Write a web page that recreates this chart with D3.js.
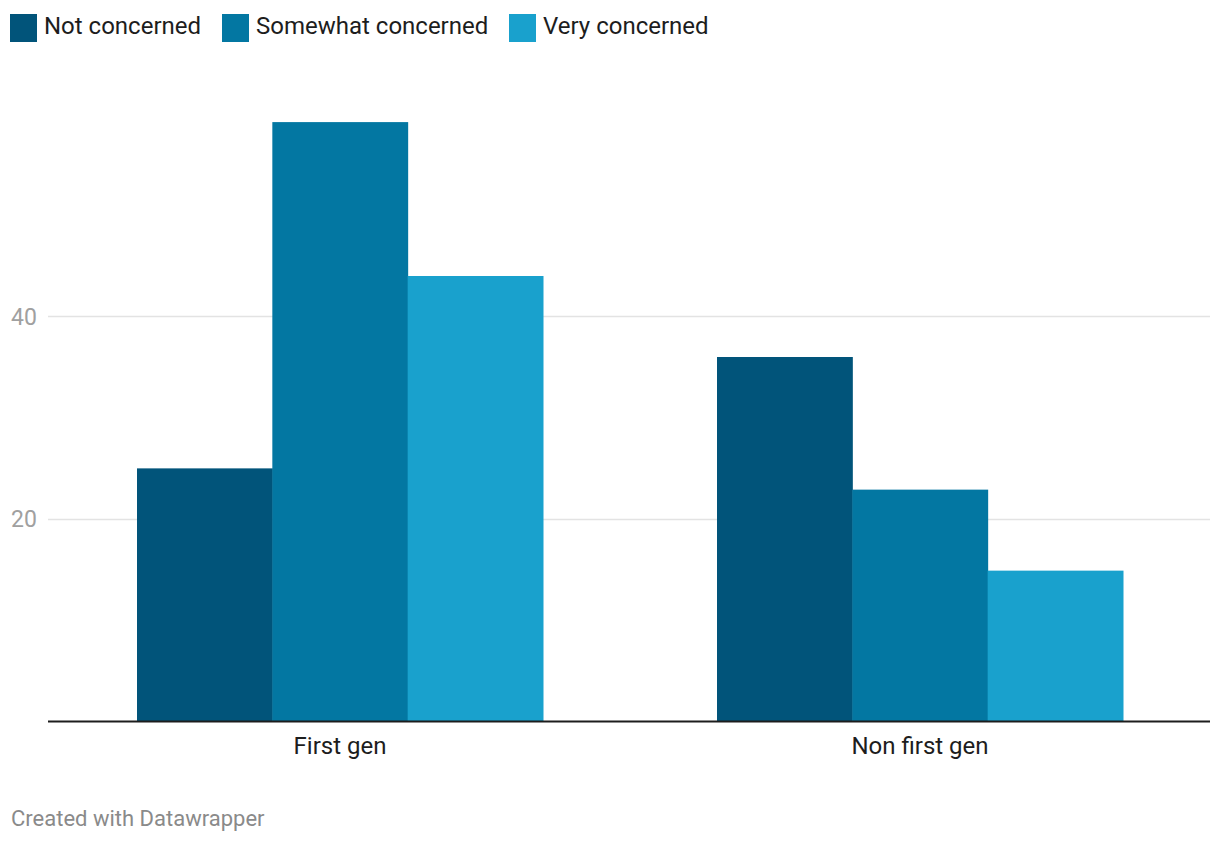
<!DOCTYPE html>
<html><head><meta charset="utf-8">
<script src="https://cdn.jsdelivr.net/npm/d3@7"></script>
<style>
body{margin:0;background:#fff;}
svg text{font-family:Roboto,"Noto Sans",sans-serif;}
</style></head>
<body><svg id="c" width="1220" height="844"></svg>
<script>
const categories = ["First gen", "Non first gen"];
const seriesNames = ["Not concerned", "Somewhat concerned", "Very concerned"];
const notConcerned = [25, 36];
const somewhatConcerned = [59.2, 22.9];
const veryConcerned = [44, 14.9];
const yTicks = [20, 40];
const colors = ["#01547a", "#0377a2", "#19a1cd"];

const seriesValues = [notConcerned, somewhatConcerned, veryConcerned];
const svg = d3.select("#c");

const x0 = d3.scaleBand().domain(categories).range([50, 1210]).paddingInner(0.3).paddingOuter(0.15);
const x1 = d3.scaleBand().domain(seriesNames).range([0, x0.bandwidth()]);
const y = d3.scaleLinear().domain([0, 60]).range([721.5, 114]);

// gridlines
svg.append("g").selectAll("line").data(yTicks).join("line")
  .attr("x1", 48).attr("x2", 1210)
  .attr("y1", d => Math.floor(y(d)) + 0.5).attr("y2", d => Math.floor(y(d)) + 0.5)
  .attr("stroke", "#e3e3e3").attr("stroke-width", 1.5);
svg.append("g").selectAll("text").data(yTicks).join("text")
  .attr("x", 11).attr("y", d => y(d) + 8)
  .attr("font-size", 23).attr("fill", "#a0a0a0")
  .text(d => d);

// bars
const groups = svg.append("g").selectAll("g").data(categories).join("g")
  .attr("transform", d => `translate(${x0(d)},0)`);
groups.selectAll("rect").data((c, ci) => seriesNames.map((s, si) => ({s, si, v: seriesValues[si][ci]})))
  .join("rect")
  .attr("x", d => x1(d.s)).attr("width", x1.bandwidth() + 0.5)
  .attr("y", d => y(d.v)).attr("height", d => y(0) - y(d.v))
  .attr("fill", d => colors[d.si]);

// baseline
svg.append("line").attr("x1", 48).attr("x2", 1210)
  .attr("y1", 721.5).attr("y2", 721.5).attr("stroke", "#1d1d1d").attr("stroke-width", 2);

// category labels
svg.append("g").selectAll("text").data(categories).join("text")
  .attr("x", d => x0(d) + x0.bandwidth() / 2).attr("y", 754)
  .attr("text-anchor", "middle").attr("font-size", 24).attr("fill", "#1d1d1d")
  .text(d => d);

// legend
const legendX = [10, 222, 509];
const lg = svg.append("g").selectAll("g").data(seriesNames).join("g")
  .attr("transform", (d, i) => `translate(${legendX[i]},14)`);
lg.append("rect").attr("width", 27).attr("height", 28).attr("fill", (d, i) => colors[i]);
lg.append("text").attr("x", 34).attr("y", 20).attr("font-size", 24).attr("fill", "#1d1d1d").text(d => d);

// footer
svg.append("text").attr("x", 11).attr("y", 826).attr("font-size", 22).attr("fill", "#8a8a8a")
  .text("Created with Datawrapper");
</script></body></html>
